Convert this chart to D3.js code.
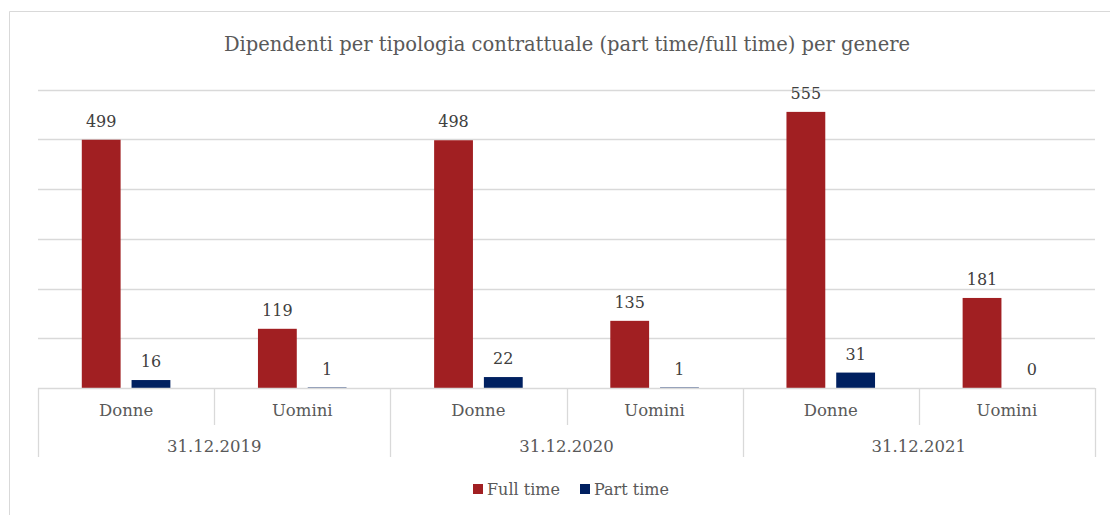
<!DOCTYPE html>
<html>
<head>
<meta charset="utf-8">
<script src="https://cdn.jsdelivr.net/npm/d3@7"></script>
<style>
  html, body { margin: 0; padding: 0; background: #fff; }
  svg { display: block; }
  text { font-family: Georgia, "DejaVu Serif", "Liberation Serif", serif; }
</style>
</head>
<body>
<svg id="chart" width="1110" height="515"></svg>
<script>
// Data
const years = ["31.12.2019", "31.12.2020", "31.12.2021"];
const genders = ["Donne", "Uomini"];
const seriesNames = ["Full time", "Part time"];
const fullTime = [499, 119, 498, 135, 555, 181];
const partTime = [16, 1, 22, 1, 31, 0];
const yTicks = [0, 100, 200, 300, 400, 500, 600];
const seriesColors = ["#a11f22", "#002060"];

(function () {
  const categories = [];
  years.forEach(yr => genders.forEach(g => categories.push({ year: yr, gender: g, key: yr + "|" + g })));
  const rows = categories.map((c, i) => ({ ...c, values: [fullTime[i], partTime[i]] }));

  const svg = d3.select("#chart");
  const W = 1110, H = 515;
  const plotLeft = 38, plotRight = 1095, plotTop = 89.5, plotBase = 388;

  // Outer chart frame (right/bottom fall outside the view)
  svg.append("path")
    .attr("d", `M9.5,${H + 2} V11.5 H${W + 2}`)
    .attr("fill", "none").attr("stroke", "#d9d9d9").attr("stroke-width", 1);

  // Title
  svg.append("text")
    .attr("x", 567).attr("y", 51)
    .attr("text-anchor", "middle")
    .attr("font-size", 19.5)
    .attr("fill", "#595959")
    .text("Dipendenti per tipologia contrattuale (part time/full time) per genere");

  const x0 = d3.scaleBand().domain(categories.map(c => c.key)).range([plotLeft, plotRight]).padding(0);
  const x1 = d3.scaleBand().domain(seriesNames).range([0, x0.bandwidth()])
    .paddingInner(0.22).paddingOuter(0.88);
  const y = d3.scaleLinear().domain([0, 600]).range([plotBase, plotTop]);

  // Gridlines
  svg.append("g").selectAll("line").data(yTicks.filter(t => t > 0)).join("line")
    .attr("x1", plotLeft).attr("x2", plotRight)
    .attr("y1", d => Math.round(y(d)) + 0.5).attr("y2", d => Math.round(y(d)) + 0.5)
    .attr("stroke", "#d9d9d9").attr("stroke-width", 1.3);

  // Bars
  const groups = svg.append("g").selectAll("g").data(rows).join("g")
    .attr("transform", d => `translate(${x0(d.key)},0)`);

  groups.selectAll("rect")
    .data(d => d.values.map((v, i) => ({ series: seriesNames[i], value: v, color: seriesColors[i] })))
    .join("rect")
    .attr("x", d => x1(d.series))
    .attr("width", x1.bandwidth())
    .attr("y", d => y(d.value))
    .attr("height", d => plotBase - y(d.value))
    .attr("fill", d => d.color);

  // Value labels
  groups.selectAll("text.val")
    .data(d => d.values.map((v, i) => ({ series: seriesNames[i], value: v })))
    .join("text")
    .attr("class", "val")
    .attr("x", d => x1(d.series) + x1.bandwidth() / 2)
    .attr("y", d => y(d.value) - 13)
    .attr("text-anchor", "middle")
    .attr("font-size", 16)
    .attr("fill", "#404040")
    .text(d => d.value);

  // Category axis: baseline and separators
  const axis = svg.append("g").attr("stroke", "#d9d9d9").attr("stroke-width", 1.3).attr("fill", "none");
  axis.append("line").attr("x1", plotLeft).attr("x2", plotRight).attr("y1", plotBase + 0.5).attr("y2", plotBase + 0.5);
  const boundaries = d3.range(categories.length + 1).map(i => i === categories.length ? plotRight : x0(categories[i].key));
  axis.selectAll("line.sep").data(boundaries).join("line")
    .attr("class", "sep")
    .attr("x1", d => Math.round(d) + 0.5).attr("x2", d => Math.round(d) + 0.5)
    .attr("y1", plotBase)
    .attr("y2", (d, i) => i % 2 === 0 ? 457 : 425);

  // Gender labels
  svg.append("g").selectAll("text").data(rows).join("text")
    .attr("x", d => x0(d.key) + x0.bandwidth() / 2)
    .attr("y", 416)
    .attr("text-anchor", "middle")
    .attr("font-size", 16.5)
    .attr("fill", "#595959")
    .text(d => d.gender);

  // Year labels
  svg.append("g").selectAll("text").data(years).join("text")
    .attr("x", yr => x0(yr + "|" + genders[0]) + x0.bandwidth())
    .attr("y", 452)
    .attr("text-anchor", "middle")
    .attr("font-size", 16.5)
    .attr("fill", "#595959")
    .text(yr => yr);

  // Legend
  const legend = svg.append("g").attr("transform", "translate(473,489)");
  const legendX = [0, 107];
  const li = legend.selectAll("g").data(seriesNames).join("g")
    .attr("transform", (d, i) => `translate(${legendX[i]},0)`);
  li.append("rect").attr("x", 0).attr("y", -5).attr("width", 10).attr("height", 10)
    .attr("fill", (d, i) => seriesColors[i]);
  li.append("text").attr("x", 14).attr("y", 5.5)
    .attr("font-size", 16).attr("fill", "#595959").text(d => d);
})();
</script>
</body>
</html>
